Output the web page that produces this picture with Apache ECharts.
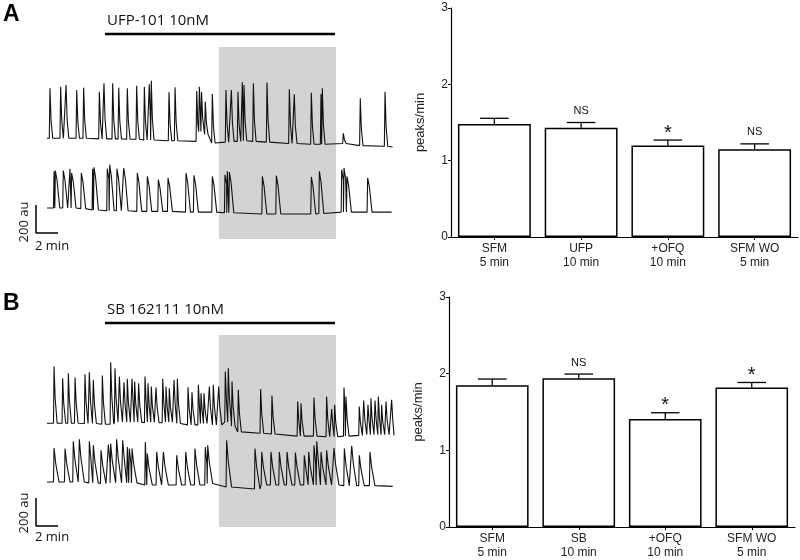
<!DOCTYPE html>
<html><head><meta charset="utf-8">
<script src="https://cdn.jsdelivr.net/npm/echarts@6/dist/echarts.min.js"></script>
<style>html,body{margin:0;padding:0;background:#fff}#c{width:800px;height:560px}</style>
</head><body><div id="c"></div>
<script>
// ---------- bar chart data ----------
const categoriesA = ['SFM\n5 min', 'UFP\n10 min', '+OFQ\n10 min', 'SFM WO\n5 min'];
const categoriesB = ['SFM\n5 min', 'SB\n10 min', '+OFQ\n10 min', 'SFM WO\n5 min'];
const meanA = [1.48, 1.43, 1.20, 1.15];
const semA  = [0.075, 0.07, 0.07, 0.07];
const sigA  = ['', 'NS', '*', 'NS'];
const meanB = [1.85, 1.94, 1.41, 1.82];
const semB  = [0.08, 0.055, 0.08, 0.065];
const sigB  = ['', 'NS', '*', '*'];
const yTicks = [0, 1, 2, 3];

// ---------- trace data: [time (min), peak level (au), local baseline (au)] relative to trace offset ----------
const peaksA1 = [[0.27,369,12],[1.24,381,12],[1.73,393,12],[2.70,357,12],[3.33,374,12],[4.76,345,8],[5.18,405,8],[5.97,405,8],[6.52,374,8],[7.30,369,5],[8.15,388,5],[8.85,381,0],[9.30,398,0],[9.48,424,0],[11.09,341,-5],[11.64,376,-5],[13.61,350,-10],[13.85,381,60],[14.05,345,60],[14.39,274,40],[15.03,329,-21],[16.27,357,-15],[16.76,357,-10],[17.36,345,-10],[17.76,412,-5],[17.91,393,-5],[18.76,405,-10],[20.0,410,-15],[22.03,362,-25],[22.48,326,-25],[24.03,338,-30],[24.91,329,-30],[25.03,369,-30],[26.94,48,-25],[28.48,298,-40],[30.73,345,-45]];
const endA1 = [31.42, -50];
const peaksA2 = [[0.64,276,14],[0.76,281,14],[1.48,281,14],[2.09,295,14],[2.24,264,14],[3.12,264,10],[4.15,295,0],[4.27,305,0],[5.48,295,-5],[5.70,324,-5],[6.36,295,-5],[6.97,300,-5],[8.21,264,-10],[9.12,240,-10],[10.12,217,-10],[11.0,229,-10],[12.64,264,-15],[13.36,248,-15],[15.03,240,-15],[16.18,252,-20],[16.39,276,-20],[16.58,271,-20],[19.58,240,-29],[20.85,245,-29],[24.03,236,-29],[24.76,276,-25],[26.79,288,-15],[27.0,300,-15],[27.27,240,-15],[29.15,229,-15]];
const endA2 = [31.33, -15];
const peaksB1 = [[0.64,417,12],[1.42,333,12],[1.94,369,12],[2.55,338,12],[3.45,362,10],[3.85,376,10],[4.21,321,10],[5.03,352,5],[5.79,448,5],[6.18,405,20],[6.58,345,20],[7.0,305,20],[7.30,329,20],[7.73,329,20],[7.97,310,20],[8.33,298,20],[8.91,345,15],[9.18,298,20],[9.48,274,20],[9.91,267,15],[10.52,329,15],[10.82,274,20],[11.12,262,20],[11.55,321,10],[11.85,329,10],[12.82,269,0],[13.18,233,0],[13.76,286,0],[14.0,226,10],[14.27,226,10],[14.76,274,0],[15.12,286,0],[15.61,274,0],[16.21,381,20],[16.48,405,20],[16.82,310,-10],[17.39,250,-50],[19.42,257,-60],[20.45,210,-65],[22.79,167,-80],[23.09,155,-80],[24.27,195,-80],[25.42,202,-85],[25.88,114,-85],[26.15,143,-85],[27.0,267,-80],[27.18,202,-80],[28.39,131,-75],[28.79,174,-70],[29.18,143,-70],[29.45,190,-70],[29.82,174,-70],[30.12,202,-70],[30.42,143,-70],[30.82,167,-70],[31.33,179,-75]];
const endB1 = [31.55, -75];
const peaksB2 = [[0.64,264,21],[1.64,260,21],[2.39,312,21],[2.94,326,21],[3.85,312,15],[4.21,283,15],[4.91,248,10],[5.58,288,15],[5.79,295,15],[6.33,326,15],[6.88,319,15],[7.30,271,15],[7.48,260,15],[7.73,260,15],[8.94,307,0],[9.12,224,0],[9.97,236,0],[10.58,236,0],[11.79,212,0],[12.61,236,0],[13.45,260,0],[14.39,271,0],[14.61,283,10],[16.33,319,-15],[18.91,260,-29],[19.52,236,0],[20.36,236,0],[21.12,236,0],[21.82,236,0],[22.58,231,0],[23.39,212,0],[23.79,236,0],[24.27,283,0],[24.52,312,0],[24.91,236,0],[25.42,248,0],[26.09,264,0],[27.03,260,-5],[27.70,279,-5],[28.39,212,-5],[29.36,236,-5]];
const endB2 = [31.42, -10];

// protocol timing (min) and scale bar size
const drugOn = [5.27, 26.18];
const ofqOn = [15.64, 26.27];
const scaleBar = {min: 2, au: 200};

// ---------- layout (au offsets of each trace, peak shapes) ----------
const traceOffset = {A1: 3000, A2: 2500, B1: 965, B2: 536};
const shapes = {
  A1: {rise: 0.06, hold: 0.10, frac: 0.35, fall: 0.25},
  A2: {rise: 0.05, hold: 0.15, frac: 0.75, fall: 0.40},
  B1: {rise: 0.05, hold: 0.10, frac: 0.45, fall: 0.28},
  B2: {rise: 0.05, hold: 0.15, frac: 0.55, fall: 0.45}
};

function buildTrace(peaks, end, off, sh) {
  const pts = [[0, off + peaks[0][2]]];
  for (let i = 0; i < peaks.length; i++) {
    const [t, p, b] = peaks[i];
    const nextStart = i + 1 < peaks.length ? peaks[i + 1][0] - sh.rise : end[0];
    const cand = [[t - sh.rise, b], [t, p], [t + sh.hold, b + (p - b) * sh.frac], [t + sh.fall, b]];
    for (const c of cand) {
      if (c[0] < nextStart && c[0] > pts[pts.length - 1][0]) pts.push([c[0], off + c[1]]);
    }
  }
  pts.push([end[0], off + end[1]]);
  return pts;
}

const chart = echarts.init(document.getElementById('c'));
const fontSans = '"Liberation Sans", Arial, sans-serif';
const fontOpen = '"Open Sans", "DejaVu Sans", sans-serif';

function traceSeries(name, pts) {
  return {type: 'line', name, xAxisIndex: 0, yAxisIndex: 0, data: pts, showSymbol: false, symbol: 'none',
    lineStyle: {color: '#111', width: 1.1}, z: 5, silent: true, animation: false};
}

function barSet(idx, cats, mean, sem, sig) {
  return [
    {type: 'bar', xAxisIndex: idx, yAxisIndex: idx, data: mean, barWidth: '84%',
      itemStyle: {color: '#fff', borderColor: '#000', borderWidth: 1.5}, z: 2, animation: false},
    {type: 'custom', xAxisIndex: idx, yAxisIndex: idx, z: 3, animation: false,
      data: mean.map((m, i) => [i, m, sem[i]]),
      renderItem: function (params, api) {
        const i = api.value(0), m = api.value(1), s = api.value(2);
        const top = api.coord([i, m + s]);
        const base = api.coord([i, m]);
        const half = api.size([1, 0])[0] * 0.165;
        const st = {stroke: '#000', lineWidth: 1.3};
        const ch = [
          {type: 'line', shape: {x1: top[0], y1: base[1], x2: top[0], y2: top[1]}, style: st},
          {type: 'line', shape: {x1: top[0] - half, y1: top[1], x2: top[0] + half, y2: top[1]}, style: st}
        ];
        const lab = sig[i];
        if (lab) {
          const star = lab === '*';
          ch.push({type: 'text', style: {text: lab, x: top[0], y: star ? top[1] + 3 : top[1] - 6,
            align: 'center', verticalAlign: 'bottom', fill: '#111',
            font: (star ? '20px ' : '11px ') + fontSans}});
        }
        return {type: 'group', children: ch};
      }}
  ];
}

function barX(idx, cats) {
  return {type: 'category', gridIndex: idx, data: cats,
    axisLine: {lineStyle: {color: '#000', width: 1.2}},
    axisTick: {show: true, alignWithLabel: true, length: 3, lineStyle: {color: '#000'}},
    axisLabel: {color: '#222', fontSize: 12, fontFamily: fontSans, lineHeight: 14, margin: 5, interval: 0}};
}
function barY(idx) {
  return {type: 'value', gridIndex: idx, min: 0, max: 3, interval: 1,
    name: 'peaks/min', nameLocation: 'middle', nameGap: 24,
    nameTextStyle: {color: '#222', fontSize: 13, fontFamily: fontSans},
    axisLine: {show: true, lineStyle: {color: '#000', width: 1.2}},
    axisTick: {show: true, length: 3, lineStyle: {color: '#000'}},
    axisLabel: {color: '#222', fontSize: 12, fontFamily: fontSans, margin: 3,
      formatter: v => yTicks.includes(v) ? String(v) : ''},
    splitLine: {show: false}};
}

const grayA = [[{xAxis: ofqOn[0], yAxis: 2293}, {xAxis: ofqOn[1], yAxis: 3664}]];
const grayB = [[{xAxis: ofqOn[0], yAxis: 236}, {xAxis: ofqOn[1], yAxis: 1607}]];

const option = {
  backgroundColor: '#fff',
  animation: false,
  grid: [
    {left: 25, top: 0, width: 374, height: 560},
    {left: 451, top: 8, width: 347, height: 229},
    {left: 449, top: 297, width: 346, height: 230}
  ],
  xAxis: [
    {type: 'value', gridIndex: 0, min: -2, max: 32, show: false},
    barX(1, categoriesA), barX(2, categoriesB)
  ],
  yAxis: [
    {type: 'value', gridIndex: 0, min: 0, max: 4000, show: false},
    barY(1), barY(2)
  ],
  series: [
    {type: 'line', xAxisIndex: 0, yAxisIndex: 0, data: [], silent: true, z: 1,
      markArea: {silent: true, itemStyle: {color: '#d3d3d3', opacity: 1}, data: grayA.concat(grayB)}},
    traceSeries('A1', buildTrace(peaksA1, endA1, traceOffset.A1, shapes.A1)),
    traceSeries('A2', buildTrace(peaksA2, endA2, traceOffset.A2, shapes.A2)),
    traceSeries('B1', buildTrace(peaksB1, endB1, traceOffset.B1, shapes.B1)),
    traceSeries('B2', buildTrace(peaksB2, endB2, traceOffset.B2, shapes.B2)),
    // drug application bars
    {type: 'line', xAxisIndex: 0, yAxisIndex: 0, data: [[drugOn[0], 3757], [drugOn[1], 3757]], symbol: 'none',
      lineStyle: {color: '#000', width: 2.5}, z: 5},
    {type: 'line', xAxisIndex: 0, yAxisIndex: 0, data: [[drugOn[0], 1693], [drugOn[1], 1693]], symbol: 'none',
      lineStyle: {color: '#000', width: 2.5}, z: 5},
    // scale bars
    {type: 'line', xAxisIndex: 0, yAxisIndex: 0, symbol: 'none', lineStyle: {color: '#000', width: 1.5}, z: 5,
      data: [[-scaleBar.min / 2, 2336 + scaleBar.au], [-scaleBar.min / 2, 2336], [scaleBar.min / 2, 2336]]},
    {type: 'line', xAxisIndex: 0, yAxisIndex: 0, symbol: 'none', lineStyle: {color: '#000', width: 1.5}, z: 5,
      data: [[-scaleBar.min / 2, 243 + scaleBar.au], [-scaleBar.min / 2, 243], [scaleBar.min / 2, 243]]},
    ...barSet(1, categoriesA, meanA, semA, sigA),
    ...barSet(2, categoriesB, meanB, semB, sigB)
  ],
  graphic: [
    {type: 'text', left: 3, top: 3, style: {text: 'A', font: 'bold 23px ' + fontSans, fill: '#000'}},
    {type: 'text', left: 3, top: 292, style: {text: 'B', font: 'bold 23px ' + fontSans, fill: '#000'}},
    {type: 'text', left: 107, top: 13, style: {text: 'UFP-101 10nM', font: '15px ' + fontOpen, fill: '#111'}},
    {type: 'text', left: 107, top: 302, style: {text: 'SB 162111 10nM', font: '15px ' + fontOpen, fill: '#111'}},
    {type: 'text', left: 232, top: 50, style: {text: 'OFQ 100pM', font: '16px ' + fontOpen, fill: '#111'}},
    {type: 'text', left: 232, top: 337, style: {text: 'OFQ 100pM', font: '16px ' + fontOpen, fill: '#111'}},
    {type: 'text', x: 24, y: 222, rotation: Math.PI / 2, style: {text: '200 au', font: '13px ' + fontOpen, fill: '#111', align: 'center', verticalAlign: 'middle'}},
    {type: 'text', x: 24, y: 513, rotation: Math.PI / 2, style: {text: '200 au', font: '13px ' + fontOpen, fill: '#111', align: 'center', verticalAlign: 'middle'}},
    {type: 'text', left: 35, top: 240, style: {text: '2 min', font: '13px ' + fontOpen, fill: '#111'}},
    {type: 'text', left: 35, top: 531, style: {text: '2 min', font: '13px ' + fontOpen, fill: '#111'}}
  ]
};
chart.setOption(option);
</script></body></html>
